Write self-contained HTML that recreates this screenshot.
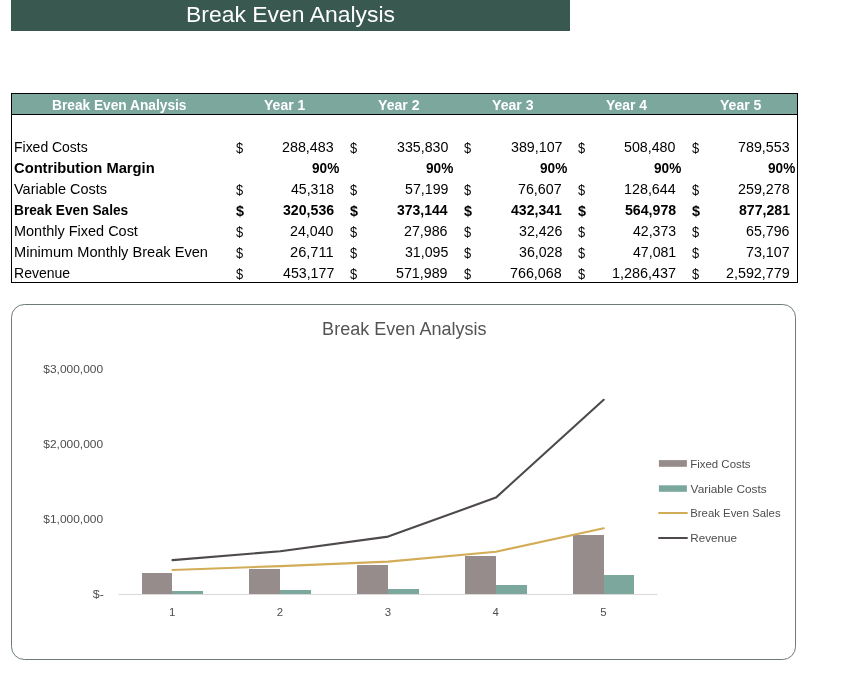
<!DOCTYPE html>
<html lang="en">
<head>
<meta charset="utf-8">
<title>Break Even Analysis</title>
<style>
html,body{margin:0;padding:0;background:#fff;}
body{width:841px;height:699px;position:relative;overflow:hidden;font-family:"Liberation Sans",sans-serif;color:#000;}
.t{position:absolute;display:block;margin:0;padding:0;white-space:nowrap;transform-origin:0 50%;font-weight:normal;}
.b,.b .t{font-weight:bold;}
.w{color:#fff;}
#titlebar{position:absolute;left:11px;top:0;width:559px;height:31px;background:#395850;}
#tbl{position:absolute;left:11px;top:93px;width:785px;height:188px;border:1px solid #000;}
.row{position:absolute;left:0;width:785px;height:21px;}
.row.hdr{top:0;height:20px;background:#7ba79d;border-bottom:1px solid #000;color:#fff;}
.cell{position:absolute;top:0;height:100%;}
#chart{position:absolute;left:0;top:0;}
</style>
</head>
<body>
<header id="titlebar"><h1 class="t w" style="left:175.01px;top:2.00px;font-size:22.4px;line-height:25px;transform:scaleX(1.0241)">Break Even Analysis</h1></header>
<div id="tbl" role="table" aria-label="Break Even Analysis">
<div class="row hdr b" role="row"><div class="cell" role="columnheader" style="left:0;width:216px"><span class="t" style="left:40.47px;top:3.00px;font-size:14.0px;line-height:16px;transform:scaleX(0.9801)">Break Even Analysis</span></div><div class="cell" role="columnheader" style="left:216px;width:114px"><span class="t" style="left:36.05px;top:3.00px;font-size:14.0px;line-height:16px;transform:scaleX(1.0041)">Year 1</span></div><div class="cell" role="columnheader" style="left:330px;width:114px"><span class="t" style="left:36.05px;top:3.00px;font-size:14.0px;line-height:16px;transform:scaleX(1.0084)">Year 2</span></div><div class="cell" role="columnheader" style="left:444px;width:114px"><span class="t" style="left:36.05px;top:3.00px;font-size:14.0px;line-height:16px;transform:scaleX(1.0075)">Year 3</span></div><div class="cell" role="columnheader" style="left:558px;width:114px"><span class="t" style="left:36.06px;top:3.00px;font-size:14.0px;line-height:16px;transform:scaleX(0.9963)">Year 4</span></div><div class="cell" role="columnheader" style="left:672px;width:113px"><span class="t" style="left:36.05px;top:3.00px;font-size:14.0px;line-height:16px;transform:scaleX(1.0041)">Year 5</span></div></div>
<div class="row" role="row" style="top:42px"><div class="cell" role="rowheader" style="left:0;width:216px"><span class="t" style="left:1.85px;top:4.00px;font-size:13.8px;line-height:15px;transform:scaleX(1.0120)">Fixed Costs</span></div><div class="cell" role="cell" style="left:216px;width:114px"><span class="t" style="left:7.97px;top:3.00px;font-size:15.5px;line-height:17px;transform:scaleX(0.8278)">$</span><span class="t" style="left:54.32px;top:4.00px;font-size:13.8px;line-height:15px;transform:scaleX(1.0349)">288,483</span></div><div class="cell" role="cell" style="left:330px;width:114px"><span class="t" style="left:7.97px;top:3.00px;font-size:15.5px;line-height:17px;transform:scaleX(0.8278)">$</span><span class="t" style="left:54.50px;top:4.00px;font-size:13.8px;line-height:15px;transform:scaleX(1.0298)">335,830</span></div><div class="cell" role="cell" style="left:444px;width:114px"><span class="t" style="left:7.97px;top:3.00px;font-size:15.5px;line-height:17px;transform:scaleX(0.8278)">$</span><span class="t" style="left:54.50px;top:4.00px;font-size:13.8px;line-height:15px;transform:scaleX(1.0327)">389,107</span></div><div class="cell" role="cell" style="left:558px;width:114px"><span class="t" style="left:7.97px;top:3.00px;font-size:15.5px;line-height:17px;transform:scaleX(0.8278)">$</span><span class="t" style="left:54.46px;top:4.00px;font-size:13.8px;line-height:15px;transform:scaleX(1.0305)">508,480</span></div><div class="cell" role="cell" style="left:672px;width:113px"><span class="t" style="left:7.97px;top:3.00px;font-size:15.5px;line-height:17px;transform:scaleX(0.8278)">$</span><span class="t" style="left:54.32px;top:4.00px;font-size:13.8px;line-height:15px;transform:scaleX(1.0349)">789,553</span></div></div>
<div class="row b" role="row" style="top:63px"><div class="cell" role="rowheader" style="left:0;width:216px"><span class="t" style="left:2.21px;top:4.00px;font-size:13.8px;line-height:15px;transform:scaleX(1.0671)">Contribution Margin</span></div><div class="cell" role="cell" style="left:216px;width:114px"><span class="t" style="left:83.52px;top:4.00px;font-size:13.8px;line-height:15px;transform:scaleX(0.9861)">90%</span></div><div class="cell" role="cell" style="left:330px;width:114px"><span class="t" style="left:83.52px;top:4.00px;font-size:13.8px;line-height:15px;transform:scaleX(0.9861)">90%</span></div><div class="cell" role="cell" style="left:444px;width:114px"><span class="t" style="left:83.52px;top:4.00px;font-size:13.8px;line-height:15px;transform:scaleX(0.9861)">90%</span></div><div class="cell" role="cell" style="left:558px;width:114px"><span class="t" style="left:83.52px;top:4.00px;font-size:13.8px;line-height:15px;transform:scaleX(0.9861)">90%</span></div><div class="cell" role="cell" style="left:672px;width:113px"><span class="t" style="left:83.52px;top:4.00px;font-size:13.8px;line-height:15px;transform:scaleX(0.9861)">90%</span></div></div>
<div class="row" role="row" style="top:84px"><div class="cell" role="rowheader" style="left:0;width:216px"><span class="t" style="left:2.43px;top:4.00px;font-size:13.8px;line-height:15px;transform:scaleX(1.0490)">Variable Costs</span></div><div class="cell" role="cell" style="left:216px;width:114px"><span class="t" style="left:7.97px;top:3.00px;font-size:15.5px;line-height:17px;transform:scaleX(0.8278)">$</span><span class="t" style="left:62.78px;top:4.00px;font-size:13.8px;line-height:15px;transform:scaleX(1.0219)">45,318</span></div><div class="cell" role="cell" style="left:330px;width:114px"><span class="t" style="left:7.97px;top:3.00px;font-size:15.5px;line-height:17px;transform:scaleX(0.8278)">$</span><span class="t" style="left:62.53px;top:4.00px;font-size:13.8px;line-height:15px;transform:scaleX(1.0288)">57,199</span></div><div class="cell" role="cell" style="left:444px;width:114px"><span class="t" style="left:7.97px;top:3.00px;font-size:15.5px;line-height:17px;transform:scaleX(0.8278)">$</span><span class="t" style="left:62.39px;top:4.00px;font-size:13.8px;line-height:15px;transform:scaleX(1.0331)">76,607</span></div><div class="cell" role="cell" style="left:558px;width:114px"><span class="t" style="left:7.97px;top:3.00px;font-size:15.5px;line-height:17px;transform:scaleX(0.8278)">$</span><span class="t" style="left:53.96px;top:4.00px;font-size:13.8px;line-height:15px;transform:scaleX(1.0378)">128,644</span></div><div class="cell" role="cell" style="left:672px;width:113px"><span class="t" style="left:7.97px;top:3.00px;font-size:15.5px;line-height:17px;transform:scaleX(0.8278)">$</span><span class="t" style="left:54.32px;top:4.00px;font-size:13.8px;line-height:15px;transform:scaleX(1.0349)">259,278</span></div></div>
<div class="row b" role="row" style="top:105px"><div class="cell" role="rowheader" style="left:0;width:216px"><span class="t" style="left:1.98px;top:4.00px;font-size:13.8px;line-height:15px;transform:scaleX(0.9923)">Break Even Sales</span></div><div class="cell" role="cell" style="left:216px;width:114px"><span class="t" style="left:7.62px;top:3.00px;font-size:15.5px;line-height:17px;transform:scaleX(0.9251)">$</span><span class="t" style="left:54.71px;top:4.00px;font-size:13.8px;line-height:15px;transform:scaleX(1.0247)">320,536</span></div><div class="cell" role="cell" style="left:330px;width:114px"><span class="t" style="left:7.62px;top:3.00px;font-size:15.5px;line-height:17px;transform:scaleX(0.9251)">$</span><span class="t" style="left:54.71px;top:4.00px;font-size:13.8px;line-height:15px;transform:scaleX(1.0154)">373,144</span></div><div class="cell" role="cell" style="left:444px;width:114px"><span class="t" style="left:7.62px;top:3.00px;font-size:15.5px;line-height:17px;transform:scaleX(0.9251)">$</span><span class="t" style="left:54.82px;top:4.00px;font-size:13.8px;line-height:15px;transform:scaleX(1.0197)">432,341</span></div><div class="cell" role="cell" style="left:558px;width:114px"><span class="t" style="left:7.62px;top:3.00px;font-size:15.5px;line-height:17px;transform:scaleX(0.9251)">$</span><span class="t" style="left:54.61px;top:4.00px;font-size:13.8px;line-height:15px;transform:scaleX(1.0254)">564,978</span></div><div class="cell" role="cell" style="left:672px;width:113px"><span class="t" style="left:7.62px;top:3.00px;font-size:15.5px;line-height:17px;transform:scaleX(0.9251)">$</span><span class="t" style="left:54.61px;top:4.00px;font-size:13.8px;line-height:15px;transform:scaleX(1.0240)">877,281</span></div></div>
<div class="row" role="row" style="top:126px"><div class="cell" role="rowheader" style="left:0;width:216px"><span class="t" style="left:1.81px;top:4.00px;font-size:13.8px;line-height:15px;transform:scaleX(1.0492)">Monthly Fixed Cost</span></div><div class="cell" role="cell" style="left:216px;width:114px"><span class="t" style="left:7.97px;top:3.00px;font-size:15.5px;line-height:17px;transform:scaleX(0.8278)">$</span><span class="t" style="left:62.39px;top:4.00px;font-size:13.8px;line-height:15px;transform:scaleX(1.0296)">24,040</span></div><div class="cell" role="cell" style="left:330px;width:114px"><span class="t" style="left:7.97px;top:3.00px;font-size:15.5px;line-height:17px;transform:scaleX(0.8278)">$</span><span class="t" style="left:62.39px;top:4.00px;font-size:13.8px;line-height:15px;transform:scaleX(1.0314)">27,986</span></div><div class="cell" role="cell" style="left:444px;width:114px"><span class="t" style="left:7.97px;top:3.00px;font-size:15.5px;line-height:17px;transform:scaleX(0.8278)">$</span><span class="t" style="left:62.57px;top:4.00px;font-size:13.8px;line-height:15px;transform:scaleX(1.0270)">32,426</span></div><div class="cell" role="cell" style="left:558px;width:114px"><span class="t" style="left:7.97px;top:3.00px;font-size:15.5px;line-height:17px;transform:scaleX(0.8278)">$</span><span class="t" style="left:62.78px;top:4.00px;font-size:13.8px;line-height:15px;transform:scaleX(1.0219)">42,373</span></div><div class="cell" role="cell" style="left:672px;width:113px"><span class="t" style="left:7.97px;top:3.00px;font-size:15.5px;line-height:17px;transform:scaleX(0.8278)">$</span><span class="t" style="left:62.39px;top:4.00px;font-size:13.8px;line-height:15px;transform:scaleX(1.0314)">65,796</span></div></div>
<div class="row" role="row" style="top:147px"><div class="cell" role="rowheader" style="left:0;width:216px"><span class="t" style="left:1.79px;top:4.00px;font-size:13.8px;line-height:15px;transform:scaleX(1.0585)">Minimum Monthly Break Even</span></div><div class="cell" role="cell" style="left:216px;width:114px"><span class="t" style="left:7.97px;top:3.00px;font-size:15.5px;line-height:17px;transform:scaleX(0.8278)">$</span><span class="t" style="left:62.37px;top:4.00px;font-size:13.8px;line-height:15px;transform:scaleX(1.0600)">26,711</span></div><div class="cell" role="cell" style="left:330px;width:114px"><span class="t" style="left:7.97px;top:3.00px;font-size:15.5px;line-height:17px;transform:scaleX(0.8278)">$</span><span class="t" style="left:62.57px;top:4.00px;font-size:13.8px;line-height:15px;transform:scaleX(1.0262)">31,095</span></div><div class="cell" role="cell" style="left:444px;width:114px"><span class="t" style="left:7.97px;top:3.00px;font-size:15.5px;line-height:17px;transform:scaleX(0.8278)">$</span><span class="t" style="left:62.57px;top:4.00px;font-size:13.8px;line-height:15px;transform:scaleX(1.0270)">36,028</span></div><div class="cell" role="cell" style="left:558px;width:114px"><span class="t" style="left:7.97px;top:3.00px;font-size:15.5px;line-height:17px;transform:scaleX(0.8278)">$</span><span class="t" style="left:62.78px;top:4.00px;font-size:13.8px;line-height:15px;transform:scaleX(1.0236)">47,081</span></div><div class="cell" role="cell" style="left:672px;width:113px"><span class="t" style="left:7.97px;top:3.00px;font-size:15.5px;line-height:17px;transform:scaleX(0.8278)">$</span><span class="t" style="left:62.39px;top:4.00px;font-size:13.8px;line-height:15px;transform:scaleX(1.0331)">73,107</span></div></div>
<div class="row" role="row" style="top:168px"><div class="cell" role="rowheader" style="left:0;width:216px"><span class="t" style="left:1.84px;top:4.00px;font-size:13.8px;line-height:15px;transform:scaleX(1.0166)">Revenue</span></div><div class="cell" role="cell" style="left:216px;width:114px"><span class="t" style="left:7.97px;top:3.00px;font-size:15.5px;line-height:17px;transform:scaleX(0.8278)">$</span><span class="t" style="left:54.71px;top:4.00px;font-size:13.8px;line-height:15px;transform:scaleX(1.0283)">453,177</span></div><div class="cell" role="cell" style="left:330px;width:114px"><span class="t" style="left:7.97px;top:3.00px;font-size:15.5px;line-height:17px;transform:scaleX(0.8278)">$</span><span class="t" style="left:54.46px;top:4.00px;font-size:13.8px;line-height:15px;transform:scaleX(1.0327)">571,989</span></div><div class="cell" role="cell" style="left:444px;width:114px"><span class="t" style="left:7.97px;top:3.00px;font-size:15.5px;line-height:17px;transform:scaleX(0.8278)">$</span><span class="t" style="left:54.32px;top:4.00px;font-size:13.8px;line-height:15px;transform:scaleX(1.0349)">766,068</span></div><div class="cell" role="cell" style="left:558px;width:114px"><span class="t" style="left:7.97px;top:3.00px;font-size:15.5px;line-height:17px;transform:scaleX(0.8278)">$</span><span class="t" style="left:41.88px;top:4.00px;font-size:13.8px;line-height:15px;transform:scaleX(1.0445)">1,286,437</span></div><div class="cell" role="cell" style="left:672px;width:113px"><span class="t" style="left:7.97px;top:3.00px;font-size:15.5px;line-height:17px;transform:scaleX(0.8278)">$</span><span class="t" style="left:42.24px;top:4.00px;font-size:13.8px;line-height:15px;transform:scaleX(1.0379)">2,592,779</span></div></div>
</div>
<svg id="chart" width="841" height="699" viewBox="0 0 841 699" font-family="Liberation Sans, sans-serif">
<rect x="11.5" y="304.5" width="784" height="355" rx="12.8" ry="12.8" fill="#fff" stroke="#6d7c78" stroke-width="1"/>
<text x="322.11" y="335.00" font-size="17.6" textLength="164.54" lengthAdjust="spacingAndGlyphs" fill="#545454">Break Even Analysis</text>
<text x="92.78" y="598.00" font-size="11.4" textLength="11.07" lengthAdjust="spacingAndGlyphs" fill="#4d4d4d">$-</text>
<text x="43.28" y="523.00" font-size="11.4" textLength="59.87" lengthAdjust="spacingAndGlyphs" fill="#4d4d4d">$1,000,000</text>
<text x="43.28" y="448.00" font-size="11.4" textLength="59.87" lengthAdjust="spacingAndGlyphs" fill="#4d4d4d">$2,000,000</text>
<text x="43.28" y="373.00" font-size="11.4" textLength="59.87" lengthAdjust="spacingAndGlyphs" fill="#4d4d4d">$3,000,000</text>
<line x1="118.5" x2="657.4" y1="594.5" y2="594.5" stroke="#d9d9d9" stroke-width="1"/>
<rect x="142" y="573" width="30" height="21" fill="#968c8c"/><rect x="172" y="591" width="31" height="3" fill="#7ba79d"/>
<rect x="249" y="569" width="31" height="25" fill="#968c8c"/><rect x="280" y="590" width="31" height="4" fill="#7ba79d"/>
<rect x="357" y="565" width="31" height="29" fill="#968c8c"/><rect x="388" y="589" width="31" height="5" fill="#7ba79d"/>
<rect x="465" y="556" width="31" height="38" fill="#968c8c"/><rect x="496" y="585" width="31" height="9" fill="#7ba79d"/>
<rect x="573" y="535" width="31" height="59" fill="#968c8c"/><rect x="604" y="575" width="30" height="19" fill="#7ba79d"/>
<polyline points="172.5,570.0 280.3,566.1 388.1,561.6 495.9,551.7 603.7,528.3" fill="none" stroke="#d3ac58" stroke-width="2.1" stroke-linecap="round" stroke-linejoin="round"/>
<polyline points="172.5,560.1 280.3,551.2 388.1,536.6 495.9,497.6 603.7,399.8" fill="none" stroke="#4d494d" stroke-width="2.1" stroke-linecap="round" stroke-linejoin="round"/>
<text x="172.2" y="616" text-anchor="middle" font-size="11.4" fill="#4d4d4d">1</text><text x="280.0" y="616" text-anchor="middle" font-size="11.4" fill="#4d4d4d">2</text><text x="387.8" y="616" text-anchor="middle" font-size="11.4" fill="#4d4d4d">3</text><text x="495.6" y="616" text-anchor="middle" font-size="11.4" fill="#4d4d4d">4</text><text x="603.4" y="616" text-anchor="middle" font-size="11.4" fill="#4d4d4d">5</text>
<rect x="658.9" y="460.1" width="28" height="6.7" fill="#968c8c"/><text x="690.26" y="468.00" font-size="11.3" textLength="60.34" lengthAdjust="spacingAndGlyphs" fill="#4d4d4d">Fixed Costs</text>
<rect x="658.9" y="485.3" width="28" height="6.5" fill="#7ba79d"/><text x="690.64" y="493.00" font-size="11.3" textLength="76.06" lengthAdjust="spacingAndGlyphs" fill="#4d4d4d">Variable Costs</text>
<line x1="658.3" x2="687.7" y1="513" y2="513" stroke="#d3ac58" stroke-width="2"/><text x="690.26" y="517.00" font-size="11.3" textLength="90.32" lengthAdjust="spacingAndGlyphs" fill="#4d4d4d">Break Even Sales</text>
<line x1="658.3" x2="687.7" y1="538" y2="538" stroke="#4d494d" stroke-width="2"/><text x="690.24" y="542.00" font-size="11.3" textLength="46.77" lengthAdjust="spacingAndGlyphs" fill="#4d4d4d">Revenue</text>
</svg>
</body>
</html>
